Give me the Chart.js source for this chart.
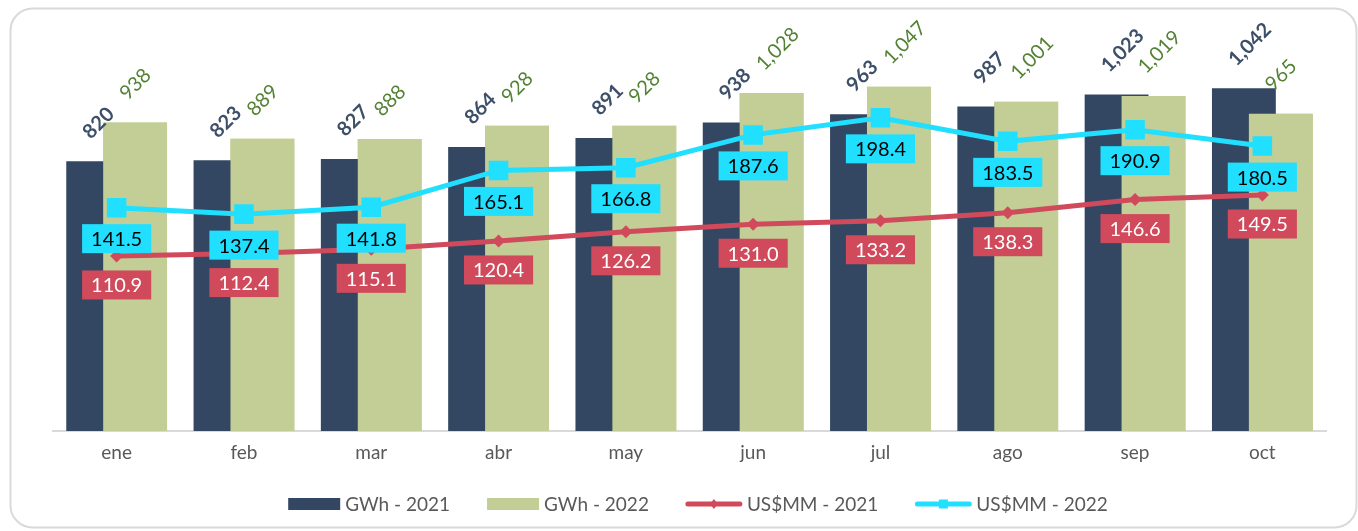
<!DOCTYPE html>
<html>
<head>
<meta charset="utf-8">
<script src="https://cdn.jsdelivr.net/npm/chart.js@4"></script>
<style>
  html, body { margin: 0; padding: 0; background: #fff; }
  canvas { display: block; }
</style>
</head>
<body>
<canvas id="energyChart" width="1358" height="531"></canvas>
<script>
const months = ['ene', 'feb', 'mar', 'abr', 'may', 'jun', 'jul', 'ago', 'sep', 'oct'];
const gwh2021 = [820, 823, 827, 864, 891, 938, 963, 987, 1023, 1042];
const gwh2022 = [938, 889, 888, 928, 928, 1028, 1047, 1001, 1019, 965];
const usd2021 = [110.9, 112.4, 115.1, 120.4, 126.2, 131.0, 133.2, 138.3, 146.6, 149.5];
const usd2022 = [141.5, 137.4, 141.8, 165.1, 166.8, 187.6, 198.4, 183.5, 190.9, 180.5];

const FONT = 'Lato, "Open Sans", sans-serif';
const DARK = '#344762';
const GREEN = '#C3CD96';
const RED = '#D04A5C';
const CYAN = '#20DFFF';

// rounded frame behind the chart
const framePlugin = {
    id: 'frame',
    beforeDraw(chart) {
        const ctx = chart.ctx;
        ctx.save();
        ctx.fillStyle = '#fff';
        ctx.fillRect(0, 0, chart.width, chart.height);
        ctx.strokeStyle = '#d9d9d9';
        ctx.lineWidth = 2;
        ctx.beginPath();
        ctx.roundRect(10.5, 8.5, 1346, 519, 22);
        ctx.stroke();
        ctx.restore();
    }
};

// 2022 bars must sit over the 2021 bars
const overlapPlugin = {
    id: 'overlap',
    afterDatasetDraw(chart, args) {
        if (args.index === 0) {
            chart.getDatasetMeta(1).controller.draw();
        }
    }
};

const labelPlugin = {
    id: 'labels',
    afterDatasetsDraw(chart) {
        const ctx = chart.ctx;
        ctx.save();
        // bar value labels, rotated
        [0, 1].forEach(di => {
            const meta = chart.getDatasetMeta(di);
            const values = chart.data.datasets[di].data;
            ctx.font = (di === 0 ? 'bold ' : '') + '20px ' + FONT;
            ctx.fillStyle = di === 0 ? '#3D4F69' : '#548235';
            ctx.textAlign = 'left';
            ctx.textBaseline = 'middle';
            meta.data.forEach((bar, i) => {
                ctx.save();
                ctx.translate(bar.x - 12, bar.y - 26);
                ctx.rotate(-Math.PI / 4);
                ctx.fillText(values[i].toLocaleString('en-US'), 0, 0);
                ctx.restore();
            });
        });
        // line value labels in boxes
        [[2, RED, '#fff', 29], [3, CYAN, '#000', 31]].forEach(([di, bg, fg, off]) => {
            const meta = chart.getDatasetMeta(di);
            const values = chart.data.datasets[di].data;
            ctx.font = '20px ' + FONT;
            ctx.textAlign = 'center';
            ctx.textBaseline = 'middle';
            meta.data.forEach((pt, i) => {
                const txt = values[i].toFixed(1);
                const w = ctx.measureText(txt).width + 18;
                const h = 29;
                const cy = pt.y + off;
                ctx.fillStyle = bg;
                ctx.fillRect(pt.x - w / 2, cy - h / 2, w, h);
                ctx.fillStyle = fg;
                ctx.fillText(txt, pt.x, cy + 1);
            });
        });
        ctx.restore();
    }
};

const legendPlugin = {
    id: 'customLegend',
    afterDraw(chart) {
        const ctx = chart.ctx;
        const ds = chart.data.datasets;
        ctx.save();
        ctx.font = '19px ' + FONT;
        ctx.textBaseline = 'middle';
        ctx.textAlign = 'left';
        const items = ds.map(d => ({
            label: d.label,
            isLine: d.type === 'line',
            color: d.type === 'line' ? d.borderColor : d.backgroundColor,
            style: d.pointStyle,
            symW: d.type === 'line' ? 56 : 52,
            textW: ctx.measureText(d.label).width
        }));
        const gap = 5, itemGap = 37;
        const total = items.reduce((s, it) => s + it.symW + gap + it.textW, 0) + itemGap * (items.length - 1);
        let x = 698 - total / 2;
        const y = 504;
        items.forEach(it => {
            ctx.fillStyle = it.color;
            if (it.isLine) {
                ctx.strokeStyle = it.color;
                ctx.lineWidth = 5;
                ctx.lineCap = 'round';
                ctx.beginPath();
                ctx.moveTo(x + 2, y);
                ctx.lineTo(x + it.symW - 2, y);
                ctx.stroke();
                const cx = x + it.symW / 2;
                ctx.beginPath();
                if (it.style === 'rectRot') {
                    ctx.moveTo(cx, y - 5); ctx.lineTo(cx + 4, y); ctx.lineTo(cx, y + 5); ctx.lineTo(cx - 4, y);
                } else {
                    ctx.rect(cx - 4.5, y - 4.5, 9, 9);
                }
                ctx.fill();
            } else {
                ctx.fillRect(x, y - 6, it.symW, 12);
            }
            x += it.symW + gap;
            ctx.fillStyle = '#595959';
            ctx.fillText(it.label, x, y + 1);
            x += it.textW + itemGap;
        });
        ctx.restore();
    }
};

new Chart(document.getElementById('energyChart'), {
    type: 'bar',
    data: {
        labels: months,
        datasets: [
            {
                label: 'GWh - 2021',
                data: gwh2021,
                backgroundColor: DARK,
                order: 2,
                yAxisID: 'y'
            },
            {
                label: 'GWh - 2022',
                data: gwh2022,
                backgroundColor: GREEN,
                order: 3,
                yAxisID: 'y'
            },
            {
                type: 'line',
                label: 'US$MM - 2021',
                data: usd2021,
                borderColor: RED,
                backgroundColor: RED,
                borderWidth: 5,
                pointStyle: 'rectRot',
                pointRadius: 6.5,
                pointBorderWidth: 0,
                order: 1,
                yAxisID: 'y1'
            },
            {
                type: 'line',
                label: 'US$MM - 2022',
                data: usd2022,
                borderColor: CYAN,
                backgroundColor: CYAN,
                borderWidth: 5,
                pointStyle: 'rect',
                pointRadius: 13.8,
                pointBorderWidth: 0,
                order: 0,
                yAxisID: 'y1'
            }
        ]
    },
    options: {
        responsive: false,
        animation: false,
        devicePixelRatio: 1,
        categoryPercentage: 0.58,
        barPercentage: 1.73,
        layout: {
            padding: { left: 53, right: 32, top: 36.4, bottom: 0 }
        },
        plugins: {
            legend: { display: false },
            tooltip: { enabled: false }
        },
        scales: {
            x: {
                grid: { display: false, drawTicks: false },
                border: { display: true, color: '#d9d9d9', width: 2 },
                ticks: {
                    color: '#595959',
                    font: { family: FONT, size: 19 },
                    padding: 10
                },
                afterFit(scale) { scale.height = 100; }
            },
            y: {
                display: false,
                min: 0,
                max: 1200
            },
            y1: {
                display: false,
                position: 'right',
                min: 0,
                max: 250
            }
        }
    },
    plugins: [framePlugin, overlapPlugin, labelPlugin, legendPlugin]
});
</script>
</body>
</html>
